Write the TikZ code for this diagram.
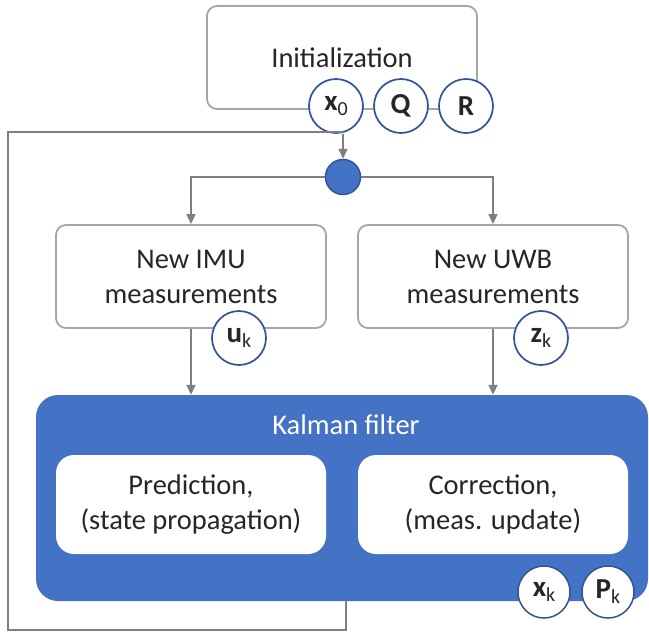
\documentclass[tikz,border=0pt]{standalone}
\usepackage{fontspec}
\setmainfont{Carlito}
\usetikzlibrary{arrows.meta}
\definecolor{boxgrey}{HTML}{A6A6A6}
\definecolor{linegrey}{HTML}{7F7F7F}
\definecolor{kblue}{HTML}{4472C4}
\definecolor{dblue}{HTML}{2F5597}
\definecolor{txt}{HTML}{262626}
\tikzset{
  lbox/.style={draw=boxgrey, line width=1.8pt, rounded corners=10pt, fill=white,
    minimum width=270pt, minimum height=103pt, align=center, text=txt,
    font=\fontsize{28.5}{35}\selectfont, inner sep=0pt},
  wbox/.style={fill=white, rounded corners=18pt, minimum width=270pt, minimum height=99pt,
    align=center, text=txt, font=\fontsize{28.5}{35}\selectfont, inner sep=0pt},
  vcirc/.style={circle, draw=dblue, line width=1.7pt, fill=white, minimum size=54pt,
    inner sep=0pt, text=txt, font=\fontsize{29}{30}\selectfont},
  ln/.style={draw=linegrey, line width=1.8pt},
  arr/.style={ln, -{Triangle[length=10pt,width=9pt]}},
}
\newcommand{\vb}[2]{\textbf{#1}\raisebox{-5pt}{\fontsize{20}{22}\selectfont\mdseries #2}}
\begin{document}
\begin{tikzpicture}[x=1pt,y=1pt]
\useasboundingbox (0,0) rectangle (649,-632);
% top
\node[lbox] (init) at (342,-57.5) {Initialization};
\node[vcirc] (x0) at (336,-106) {\vb{x}{0}};
\node[vcirc] (Q) at (401,-106) {\textbf{Q}};
\node[vcirc] (R) at (466,-106) {\textbf{R}};
\node[circle, draw=dblue, line width=1.5pt, fill=kblue, minimum size=35pt, inner sep=0pt] (dot) at (343,-177) {};
% measurement boxes
\node[lbox] (imu) at (191,-276.5) {New IMU\\measurements};
\node[lbox] (uwb) at (493,-276.5) {New UWB\\measurements};
\node[vcirc] (uk) at (239,-338) {\vb{u}{k}};
\node[vcirc] (zk) at (541,-338) {\vb{z}{k}};
% Kalman
\node[fill=kblue, rounded corners=22pt, minimum width=612pt, minimum height=206pt, inner sep=0pt] (kal) at (342,-498) {};
\node[text=white, font=\fontsize{28.5}{35}\selectfont, inner sep=0pt] (kaltitle) at (346,-425) {Kalman filter};
\node[wbox] (pred) at (191,-504.5) {Prediction,\\(state propagation)};
\node[wbox] (corr) at (493,-504.5) {Correction,\\(meas. update)};
\node[vcirc, line width=1.5pt, minimum size=52pt] (xk) at (544,-592) {\vb{x}{k}};
\node[vcirc, line width=1.5pt, minimum size=52pt] (Pk) at (608,-592) {\vb{P}{k}};
% connectors
\coordinate (fbA) at (346,-601);
\coordinate (fbB) at (8,-630);
\coordinate (fbC) at (343,-132);
\draw[arr] (dot.north |- x0.south) -- (dot.north);
\draw[arr] (dot.west) -| (imu.north);
\draw[arr] (dot.east) -| (uwb.north);
\draw[arr] (imu.south) -- (imu.south |- kal.north);
\draw[arr] (uwb.south) -- (uwb.south |- kal.north);
\draw[ln] (fbA) |- (fbB) |- (fbC);
\end{tikzpicture}
\end{document}
